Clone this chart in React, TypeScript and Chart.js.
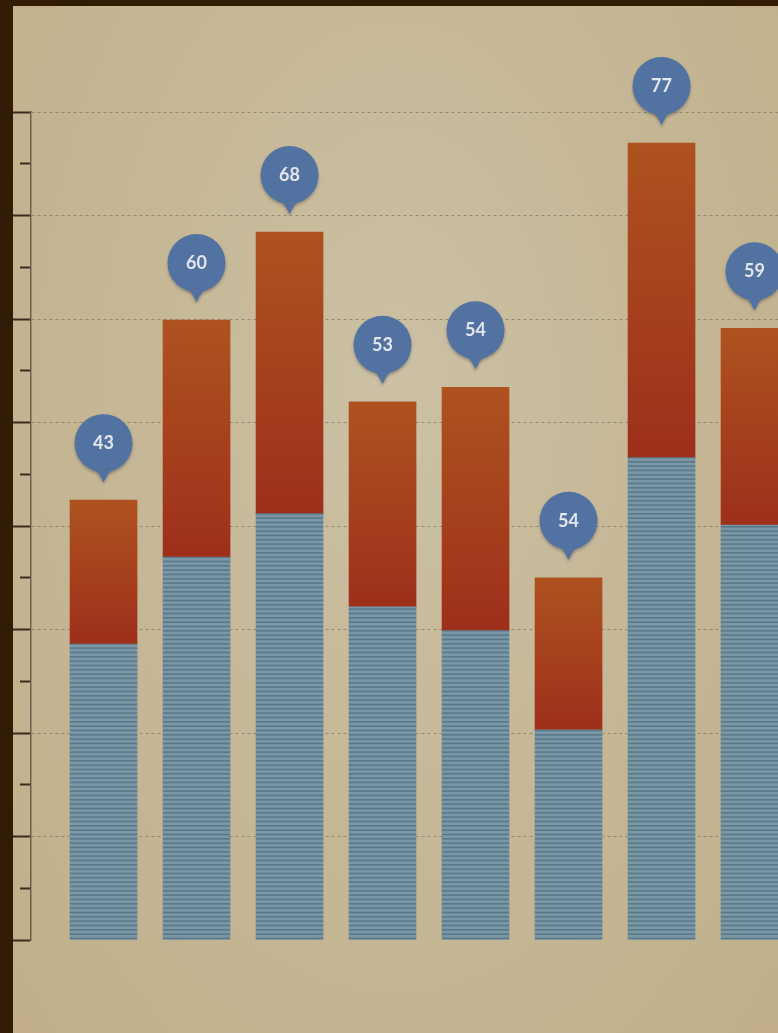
import React, { useEffect, useRef } from "react";
import { Chart, registerables } from "chart.js";

Chart.register(...registerables);

const categories = ["1", "2", "3", "4", "5", "6", "7", "8"];
const baseValues = [28.6, 37.0, 41.2, 32.2, 29.9, 20.3, 46.6, 40.1];
const topValues = [13.9, 22.9, 27.2, 19.8, 23.5, 14.7, 30.4, 19.0];
const pinLabels = ["43", "60", "68", "53", "54", "54", "77", "59"];
const yMin = 0;
const yMax = 80;
const yStep = 5;

export default function App() {
  const ref = useRef<HTMLCanvasElement | null>(null);

  useEffect(() => {
    const canvas = ref.current;
    if (!canvas) return;

    const pc = document.createElement("canvas");
    pc.width = 8;
    pc.height = 13;
    const p = pc.getContext("2d")!;
    p.fillStyle = "#7997a5";
    p.fillRect(0, 0, 8, 13);
    p.fillStyle = "#5a788a";
    for (let k = 0; k < 3; k++) p.fillRect(0, (k * 13) / 3, 8, 1.6);
    const stripe = canvas.getContext("2d")!.createPattern(pc, "repeat");

    const pinPlugin = {
      id: "pins",
      afterDatasetsDraw(chart: any) {
        const ctx = chart.ctx as CanvasRenderingContext2D;
        const meta = chart.getDatasetMeta(1);
        meta.data.forEach((el: any, i: number) => {
          const cx = el.x;
          const cy = el.y - 57;
          const r = 29;
          ctx.save();
          ctx.shadowColor = "rgba(40,40,60,0.35)";
          ctx.shadowBlur = 3;
          ctx.shadowOffsetY = 2;
          ctx.fillStyle = "#5272a2";
          ctx.beginPath();
          ctx.arc(cx, cy, r, 0, Math.PI * 2);
          ctx.fill();
          ctx.beginPath();
          ctx.moveTo(cx - 7, cy + r - 3);
          ctx.lineTo(cx + 7, cy + r - 3);
          ctx.lineTo(cx, cy + r + 10);
          ctx.closePath();
          ctx.fill();
          ctx.restore();
          ctx.save();
          ctx.fillStyle = "#e3e6ea";
          ctx.font = "bold 18px Lato, 'Open Sans', sans-serif";
          ctx.textAlign = "center";
          ctx.textBaseline = "middle";
          ctx.fillText(pinLabels[i], cx, cy);
          ctx.restore();
        });
      },
    };

    const chart = new Chart(canvas, {
      type: "bar",
      data: {
        labels: categories.map((_, i) => i) as any,
        datasets: [
          {
            label: "base",
            data: baseValues,
            backgroundColor: stripe as any,
            borderWidth: 0,
            stack: "s",
          },
          {
            label: "top",
            data: topValues,
            borderWidth: 0,
            stack: "s",
            backgroundColor: (c: any) => {
              const ch = c.chart;
              if (!ch.chartArea || c.type !== "data") return "#a8401d";
              const i = c.dataIndex;
              const y = ch.scales.y;
              const t = y.getPixelForValue(baseValues[i] + topValues[i]);
              const b = y.getPixelForValue(baseValues[i]);
              const g = ch.ctx.createLinearGradient(0, t, 0, b);
              g.addColorStop(0, "#ae521f");
              g.addColorStop(1, "#9e2f1b");
              return g;
            },
          },
        ],
      },
      options: {
        animation: false,
        responsive: false,
        layout: { padding: { top: 106, bottom: 93, left: 0, right: 0 } },
        plugins: { legend: { display: false }, tooltip: { enabled: false } },
        datasets: { bar: { barThickness: 67 } } as any,
        scales: {
          x: {
            type: "linear",
            min: -0.78,
            max: 8.22,
            offset: false,
            stacked: true,
            display: false,
            grid: { offset: false },
          },
          y: {
            stacked: true,
            min: yMin,
            max: yMax,
            position: "left",
            ticks: { display: false, stepSize: yStep },
            grid: {
              tickLength: 18,
              drawTicks: true,
              lineWidth: 1,
              color: (c: any) =>
                c.tick && c.tick.value % 10 === 0 && c.tick.value > 0
                  ? "rgba(115,105,90,0.6)"
                  : "rgba(0,0,0,0)",
              tickColor: "#3a2c1a",
              tickWidth: 2,
              tickBorderDash: (c: any) =>
                c.tick && c.tick.value % 10 === 0 ? [] : [0, 7, 40],
            } as any,
            border: { display: true, color: "#6d604a", width: 1.5, dash: [3, 3] },
          },
        },
      },
      plugins: [pinPlugin],
    });

    return () => chart.destroy();
  }, []);

  return (
    <div
      style={{
        position: "fixed",
        left: 0,
        top: 0,
        width: 778,
        height: 1033,
        overflow: "hidden",
        background: "#311d06",
      }}
    >
      <div
        style={{
          position: "absolute",
          left: 13,
          top: 6,
          right: 0,
          bottom: 0,
          background:
            "radial-gradient(ellipse at 50% 38%, #ccc1a5 0%, #c6b897 45%, #c0af8a 100%)",
        }}
      />
      <div style={{ position: "absolute", left: 13, top: 6, width: 855, height: 1027 }}>
        <canvas ref={ref} width={855} height={1027} style={{ width: 855, height: 1027, display: "block" }} />
      </div>
    </div>
  );
}
